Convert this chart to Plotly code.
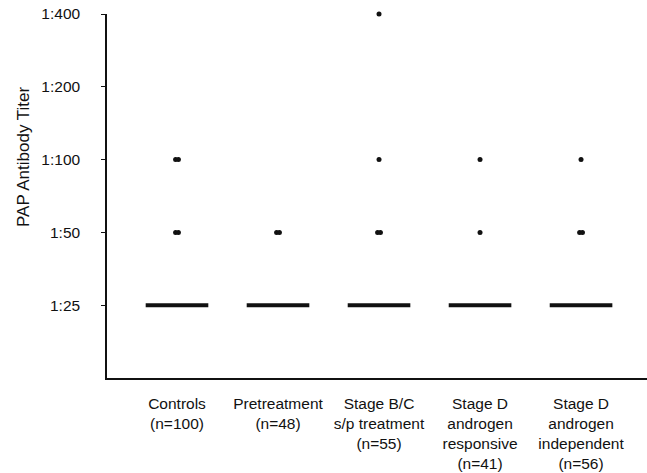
import plotly.graph_objects as go

groups = ["Controls<br>(n=100)", "Pretreatment<br>(n=48)", "Stage B/C<br>s/p treatment<br>(n=55)",
          "Stage D<br>androgen<br>responsive<br>(n=41)", "Stage D<br>androgen<br>independent<br>(n=56)"]
group_n = [100, 48, 55, 41, 56]
titers = ["1:25", "1:50", "1:100", "1:200", "1:400"]
count_50 = [2, 2, 2, 1, 2]
count_100 = [2, 0, 1, 1, 1]
count_200 = [0, 0, 0, 0, 0]
count_400 = [0, 0, 1, 0, 0]
count_25 = [n - a - b - c - d for n, a, b, c, d in zip(group_n, count_50, count_100, count_200, count_400)]

INK = "#111111"
DOT_STEP = 0.028
HALF_W = 0.31

fig = go.Figure()

# baseline (1:25) clusters drawn as a dense row of subjects
for i, c in enumerate(count_25):
    fig.add_trace(go.Scatter(x=[i - HALF_W, i + HALF_W], y=[titers.index("1:25")] * 2,
                             mode="lines", line=dict(color=INK, width=4), hoverinfo="skip",
                             showlegend=False))

for t, counts in [("1:50", count_50), ("1:100", count_100), ("1:200", count_200), ("1:400", count_400)]:
    xs, ys = [], []
    for i, c in enumerate(counts):
        for k in range(c):
            xs.append(i + (k - (c - 1) / 2) * DOT_STEP)
            ys.append(titers.index(t))
    if xs:
        fig.add_trace(go.Scatter(x=xs, y=ys, mode="markers", cliponaxis=False,
                                 marker=dict(color=INK, size=5, line=dict(width=0)),
                                 showlegend=False))

fig.update_layout(
    width=647, height=473,
    margin=dict(l=107, r=0, t=14, b=95),
    paper_bgcolor="white", plot_bgcolor="white",
    font=dict(family="Liberation Sans, Arial, sans-serif", color=INK),
    xaxis=dict(range=[-0.693, 4.653], tickmode="array", tickvals=list(range(len(groups))),
               ticktext=groups, showgrid=False, zeroline=False, showline=True,
               linecolor=INK, linewidth=2, ticks="", tickfont=dict(size=15.5),
               ticklabelstandoff=10, automargin=False),
    yaxis=dict(range=[-1, 4.0], tickmode="array", tickvals=list(range(len(titers))),
               ticktext=titers, showgrid=False, zeroline=False, showline=True,
               linecolor=INK, linewidth=1.5, ticks="outside", ticklen=4, tickcolor=INK,
               tickwidth=1, tickfont=dict(size=15.5), ticklabelstandoff=18, automargin=False),
    annotations=[dict(text="PAP Antibody Titer", xref="paper", yref="paper",
                      x=-107/540 + 24/540, y=1 - (157 - 14) / 364, textangle=-90,
                      showarrow=False, font=dict(size=17, color=INK),
                      xanchor="center", yanchor="middle")],
)

fig.write_html("out.html")
